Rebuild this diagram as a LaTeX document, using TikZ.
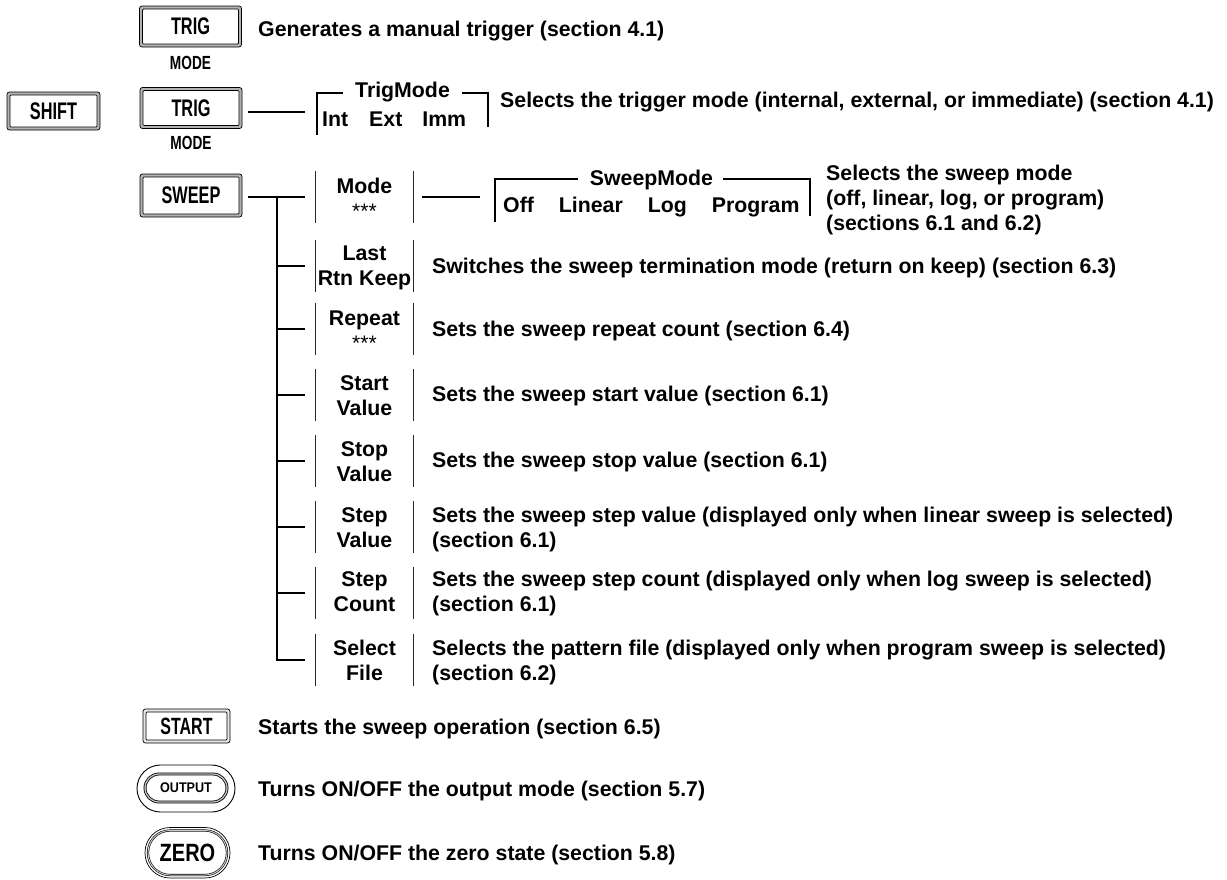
\documentclass[tikz,border=0pt]{standalone}
\usepackage{fontspec}
\usepackage{graphicx}
\setmainfont{Liberation Sans}
\usetikzlibrary{calc}
\newcommand\descfont{\bfseries\fontsize{21.3}{25}\selectfont}
\newcommand\keytxt[3]{\scalebox{#1}[1]{\fontsize{#2}{#2}\selectfont\bfseries #3}}
\newcommand\starfont{\mdseries\fontsize{21}{25}\selectfont}
\tikzset{
  keybox/.style={draw=black, line width=0.7pt, fill=gray!60, rounded corners=2.5pt, inner sep=0pt,
    path picture={\draw[black, line width=0.7pt, fill=white, rounded corners=1pt]
      ([xshift=3pt,yshift=-3pt]path picture bounding box.north west) rectangle
      ([xshift=-3pt,yshift=3pt]path picture bounding box.south east);}},
  keyA/.style={keybox, minimum width=102pt, minimum height=41pt},
  desc/.style={anchor=west, inner sep=0pt, align=left, text height=15pt, text depth=0pt, font=\descfont},
  labframe/.style={minimum width=97pt, minimum height=52pt, inner sep=0pt},
  labtext/.style={inner sep=0pt, align=center, text height=15pt, text depth=0pt, font=\descfont},
  bar/.style={line width=1.3pt, black!85},
  conn/.style={line width=1.2pt, black},
  plain/.style={inner sep=0pt, font=\descfont},
}
% #1 name, #2 row y, #3 text, #4 y of the last text line
\newcommand\labbox[4]{%
  \node[labframe] (#1) at (364.5,#2) {};
  \node[labtext] (#1t) at (364.5,#4) {#3};
  \draw[bar] (#1.north west) -- (#1.south west);
  \draw[bar] (#1.north east) -- (#1.south east);
}
\begin{document}
\begin{tikzpicture}[x=1pt, y=-1pt]
\useasboundingbox (0,0) rectangle (1227,879);

% ---- TRIG (manual trigger)
\node[keyA] (trig1) at (190.5,26.5) {\keytxt{0.68}{24}{TRIG}};
\node[inner sep=0pt] (mode1) at (190.5,63) {\keytxt{0.72}{19}{MODE}};
\node[desc] (d1) at (258,29) {Generates a manual trigger (section 4.1)};

% ---- SHIFT + TRIG
\node[keybox, minimum width=93pt, minimum height=38pt] (shift) at (53.5,111) {\keytxt{0.68}{24}{SHIFT}};
\node[keyA] (trig2) at (191,108) {\keytxt{0.68}{24}{TRIG}};
\node[inner sep=0pt] (mode2) at (191,143) {\keytxt{0.72}{19}{MODE}};
\coordinate (tmL) at (317,112);
\draw[conn] ([xshift=6pt,yshift=-4pt]trig2.east) -- ([xshift=-12pt]tmL);
\node[plain, anchor=base] (tmlabel) at (402.5,97) {TrigMode};
\node[plain, anchor=base west] (tmvals) at (322,126.5) {Int\hspace{21pt}Ext\hspace{20pt}Imm};
\draw[conn] (317,135) -- (317,93) -- (343,93);
\draw[conn] (462,93) -- (488,93) -- (488,127);
\node[desc] (d2) at (500,100) {Selects the trigger mode (internal, external, or immediate) (section 4.1)};

% ---- SWEEP
\node[keybox, minimum width=102pt, minimum height=43pt] (sweep) at (191,195.5) {\keytxt{0.68}{24}{SWEEP}};
\coordinate (jt) at (277,197);

\labbox{mode}{197}{Mode\\{\starfont ***}}{211}
\labbox{last}{266}{Last\\Rtn Keep}{278}
\labbox{rep}{329}{Repeat\\{\starfont ***}}{343}
\labbox{start}{395}{Start\\Value}{407.5}
\labbox{stop}{461}{Stop\\Value}{473.5}
\labbox{stepv}{527}{Step\\Value}{539.5}
\labbox{stepc}{593}{Step\\Count}{604}
\labbox{sel}{660}{Select\\File}{672.5}

\draw[conn] ([xshift=6pt]sweep.east |- jt) -- ([xshift=-11pt]mode.west);
\draw[conn] (jt) |- ([xshift=-11pt]sel.west);
\foreach \n in {last,rep,start,stop,stepv,stepc}
  \draw[conn] (jt |- \n.west) -- ([xshift=-11pt]\n.west);

% Mode -> SweepMode
\coordinate (smL) at (495,222);
\draw[conn] ([xshift=9pt]mode.east) -- ([xshift=-15pt]mode.east -| smL);
\node[plain, anchor=base] (smlabel) at (651.5,185.5) {SweepMode};
\node[plain, anchor=base west] (smvals) at (503,212.5) {Off\hspace{25pt}Linear\hspace{25pt}Log\hspace{25pt}Program};
\draw[conn] (smL) -- (495,179) -- (578,179);
\draw[conn] (723,179) -- (810,179) -- (810,216);
\node[desc] (dmode) at (826,223) {Selects the sweep mode\\(off, linear, log, or program)\\(sections 6.1 and 6.2)};

\node[desc] (dlast) at (432,266) {Switches the sweep termination mode (return on keep) (section 6.3)};
\node[desc] (drep) at (432,329) {Sets the sweep repeat count (section 6.4)};
\node[desc] (dstart) at (432,394) {Sets the sweep start value (section 6.1)};
\node[desc] (dstop) at (432,460) {Sets the sweep stop value (section 6.1)};
\node[desc] (dstepv) at (432,539.5) {Sets the sweep step value (displayed only when linear sweep is selected)\\(section 6.1)};
\node[desc] (dstepc) at (432,604) {Sets the sweep step count (displayed only when log sweep is selected)\\(section 6.1)};
\node[desc] (dsel) at (432,672.5) {Selects the pattern file (displayed only when program sweep is selected)\\(section 6.2)};

% ---- START
\node[keybox, fill=gray!20, minimum width=87pt, minimum height=34pt] (startkey) at (186.5,726) {\keytxt{0.68}{23.5}{START}};
\node[desc] (dstartk) at (258,727) {Starts the sweep operation (section 6.5)};

% ---- OUTPUT
\draw[line width=0.9pt, rounded corners=23.5pt] (137,765) rectangle (235,812);
\draw[line width=0.8pt, double=gray!50, double distance=1.3pt, rounded corners=14pt] (145,774) rectangle (227,802);
\node[inner sep=0pt] (output) at (186,788) {\keytxt{0.9}{14}{OUTPUT}};
\node[desc] (doutput) at (258,789) {Turns ON/OFF the output mode (section 5.7)};

% ---- ZERO
\draw[line width=0.7pt, rounded corners=25pt] (145,827.5) rectangle (230,878);
\draw[line width=0.6pt, double=gray!40, double distance=1pt, rounded corners=22pt] (148,830.5) rectangle (227,875);
\node[inner sep=0pt] (zero) at (187.5,852.5) {\keytxt{0.8}{25}{ZERO}};
\node[desc] (dzero) at (258,853) {Turns ON/OFF the zero state (section 5.8)};
\end{tikzpicture}
\end{document}
